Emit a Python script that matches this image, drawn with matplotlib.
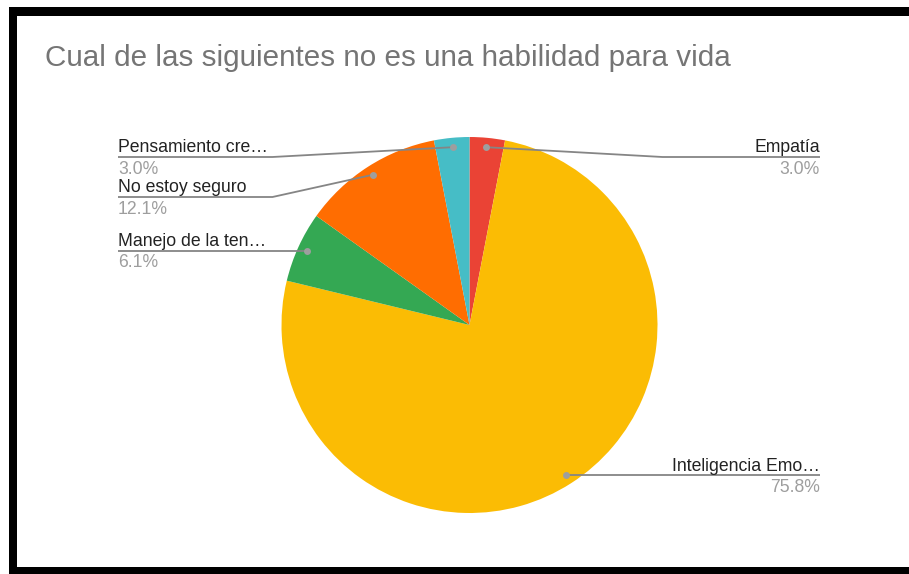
import numpy as np
import matplotlib
matplotlib.use("Agg")
import matplotlib.pyplot as plt
from matplotlib.patches import Rectangle

plt.rcParams['font.family'] = ['Liberation Sans', 'DejaVu Sans']

title = "Cual de las siguientes no es una habilidad para vida"
labels = ["Empatía", "Inteligencia Emo…", "Manejo de la ten…",
          "No estoy seguro", "Pensamiento cre…"]
counts = [1, 25, 2, 4, 1]
colors = ["#ea4335", "#fbbc04", "#34a853", "#ff6d01", "#46bdc6"]

W, H = 909, 574
fig = plt.figure(figsize=(W / 100, H / 100), dpi=100)
ax = fig.add_axes([0, 0, 1, 1])

# pixel-like coordinates, y measured up from the bottom
cx, cy, R = 469.5, H - 325, 188
wedges, _ = ax.pie(counts, colors=colors, startangle=90, counterclock=False,
                   center=(cx, cy), radius=R,
                   wedgeprops=dict(linewidth=0))
ax.set_xlim(0, W)
ax.set_ylim(0, H)
ax.set_aspect('equal')
ax.axis('off')

total = sum(counts)
pct = [100 * c / total for c in counts]

# anchor dots inside each wedge, at the wedge mid-angle
anchors = []
for w in wedges:
    mid = np.deg2rad((w.theta1 + w.theta2) / 2)
    anchors.append((cx + 0.95 * R * np.cos(mid), cy + 0.95 * R * np.sin(mid)))

# place labels: right side for wedges whose dot is right of centre
left_x, right_x = 118, 820
elbow_left, elbow_right = cx - R - 9, cx + R + 5
top_line = H - 157
gap = 40
line_col = "#858585"
fs = 12.7

right_idx = [i for i, (x, y) in enumerate(anchors) if x >= cx]
left_idx = [i for i, (x, y) in enumerate(anchors) if x < cx]

for side in (right_idx, left_idx):
    order = sorted(side, key=lambda i: -anchors[i][1])
    prev = None
    for i in order:
        ax_, ay = anchors[i]
        ly = min(ay, top_line)
        if prev is not None:
            ly = min(ly, prev - gap)
        prev = ly
        if ax_ >= cx:
            xs = [ax_, elbow_right, right_x]
            tx, ha = right_x, 'right'
        else:
            xs = [ax_, elbow_left, left_x]
            tx, ha = left_x, 'left'
        ax.plot(xs, [ay, ly, ly], color=line_col, lw=1.3, solid_capstyle='butt')
        ax.plot(ax_, ay, 'o', ms=5, color="#9e9e9e", mec='none')
        ax.text(tx, ly + 4.5, labels[i], ha=ha, va='baseline', fontsize=fs,
                color="#222222")
        ax.text(tx, ly - 16.5, f"{pct[i]:.1f}%", ha=ha, va='baseline',
                fontsize=fs, color="#9e9e9e")

ax.text(45, H - 66, title, ha='left', va='baseline', fontsize=21.3,
        color="#757575")

# black frame on the left, top and bottom edges
ax.add_patch(Rectangle((9, 0), 8, H - 7, color='black', lw=0))
ax.add_patch(Rectangle((9, H - 16), W - 9, 9, color='black', lw=0))
ax.add_patch(Rectangle((9, 0), W - 9, 7, color='black', lw=0))

fig.savefig("out.png", dpi=100, facecolor='white')
